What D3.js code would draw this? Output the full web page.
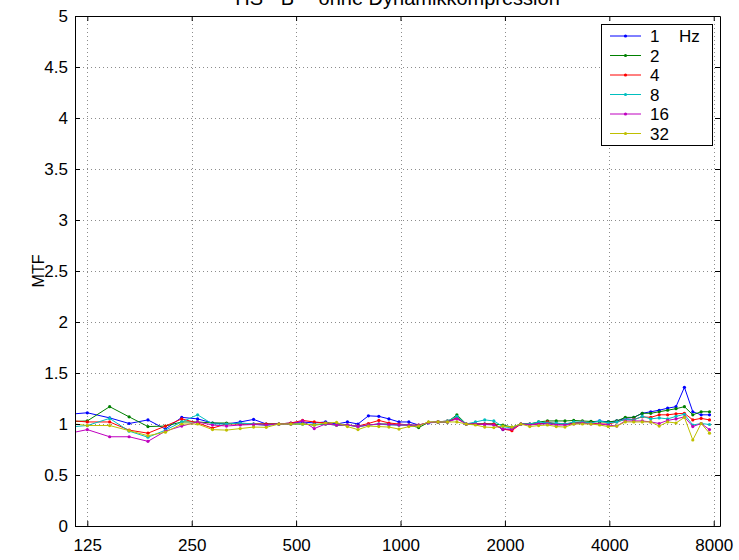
<!DOCTYPE html>
<html>
<head>
<meta charset="utf-8">
<script src="https://cdn.jsdelivr.net/npm/d3@7"></script>
<style>
  html, body { margin: 0; padding: 0; background: #fff; }
  svg { display: block; font-family: Arial, "Liberation Sans", sans-serif; }
</style>
</head>
<body>
<svg id="chart" width="739" height="560"></svg>
<script>
// Carrier frequencies (Hz), half-ERB spacing
const freqs = [106, 125, 145, 165, 187, 210, 234, 260, 287, 315, 345, 377, 410, 446, 483, 522,
  564, 608, 654, 703, 754, 808, 866, 926, 990, 1057, 1128, 1204, 1283, 1366, 1454, 1547,
  1645, 1749, 1858, 1974, 2095, 2224, 2359, 2502, 2653, 2812, 2980, 3158, 3345, 3542,
  3751, 3970, 4203, 4447, 4706, 4978, 5266, 5570, 5890, 6228, 6585, 6962, 7359, 7778];

// MTF per modulation frequency
const mtf1 = [1.09, 1.11, 1.06, 1.005, 1.04, 0.95, 1.065, 1.05, 1.01, 1.0, 1.02, 1.045, 1.0, 1.0, 1.01, 1.02,
  1.01, 1.02, 1.0, 1.02, 1.0, 1.08, 1.075, 1.05, 1.02, 1.02, 0.99, 1.01, 1.02, 1.02, 1.06, 1.0,
  1.0, 1.0, 1.0, 0.945, 0.95, 1.0, 1.0, 1.0, 1.01, 1.0, 1.0, 1.01, 1.01, 1.02,
  1.03, 1.02, 1.03, 1.055, 1.065, 1.105, 1.12, 1.135, 1.155, 1.17, 1.36, 1.12, 1.09, 1.09];
const mtf2 = [1.02, 1.03, 1.17, 1.07, 0.975, 0.98, 1.02, 1.02, 1.01, 1.01, 1.0, 1.0, 1.0, 1.0, 1.0, 1.0,
  0.99, 1.0, 0.99, 0.99, 0.975, 0.99, 1.0, 1.0, 0.99, 0.99, 0.965, 1.015, 1.02, 1.02, 1.09, 1.0,
  1.0, 1.0, 1.0, 0.99, 0.97, 1.0, 1.0, 1.02, 1.03, 1.03, 1.03, 1.035, 1.03, 1.025,
  1.02, 1.02, 1.03, 1.065, 1.065, 1.105, 1.105, 1.12, 1.135, 1.15, 1.17, 1.09, 1.12, 1.12];
const mtf4 = [1.04, 1.02, 1.02, 0.94, 0.91, 0.98, 1.05, 1.01, 0.96, 1.0, 1.0, 1.0, 1.0, 1.0, 1.01, 1.035,
  1.02, 1.01, 0.99, 0.99, 0.98, 1.005, 1.035, 1.01, 1.0, 0.99, 0.99, 1.015, 1.02, 1.03, 1.06, 1.0,
  1.0, 1.0, 1.0, 0.95, 0.935, 1.0, 1.0, 1.0, 1.02, 1.0, 1.0, 1.01, 1.02, 1.01,
  1.0, 1.0, 1.02, 1.045, 1.045, 1.07, 1.065, 1.09, 1.09, 1.1, 1.105, 1.04, 1.055, 1.04];
const mtf8 = [0.965, 0.985, 1.055, 0.93, 0.87, 0.94, 1.02, 1.09, 1.0, 1.0, 1.01, 1.0, 0.985, 1.0, 1.0, 1.0,
  0.995, 1.0, 0.99, 0.99, 0.975, 0.99, 1.0, 0.99, 0.99, 0.99, 0.985, 1.015, 1.02, 1.03, 1.075, 1.0,
  1.02, 1.04, 1.03, 0.975, 0.96, 1.0, 1.0, 1.02, 1.01, 1.01, 1.0, 1.02, 1.02, 1.01,
  1.03, 1.01, 1.02, 1.045, 1.04, 1.075, 1.05, 1.06, 1.05, 1.075, 1.095, 0.99, 1.005, 0.995];
const mtf16 = [0.895, 0.945, 0.875, 0.875, 0.83, 0.93, 0.98, 1.02, 0.99, 0.98, 0.99, 0.995, 0.99, 1.0, 1.0, 1.03,
  0.955, 1.0, 0.99, 0.99, 0.975, 0.99, 1.0, 0.995, 0.99, 0.99, 0.985, 1.015, 1.02, 1.02, 1.05, 1.0,
  1.0, 0.995, 0.99, 0.95, 0.95, 1.0, 0.99, 1.0, 1.0, 0.99, 0.99, 1.0, 1.01, 1.0,
  1.0, 0.99, 0.98, 1.03, 1.03, 1.03, 1.02, 1.005, 1.035, 1.05, 1.07, 0.975, 1.005, 0.945];
const mtf32 = [1.015, 0.985, 0.985, 0.935, 0.885, 0.92, 1.0, 1.0, 0.945, 0.94, 0.955, 0.97, 0.967, 1.0, 1.0, 1.0,
  0.99, 1.01, 1.015, 0.975, 0.945, 0.98, 0.975, 0.97, 0.95, 0.975, 0.98, 1.02, 1.02, 1.02, 1.02, 1.0,
  0.99, 0.97, 0.965, 0.98, 0.97, 1.0, 0.975, 0.985, 0.99, 0.975, 0.97, 1.0, 1.0, 1.0,
  0.99, 0.975, 0.98, 1.02, 1.02, 1.02, 1.02, 0.98, 1.02, 1.01, 1.065, 0.843, 1.005, 0.91];

const seriesNames = ["1", "2", "4", "8", "16", "32"];
const seriesValues = [mtf1, mtf2, mtf4, mtf8, mtf16, mtf32];
const seriesColors = ["#0000ff", "#008000", "#ff0000", "#00bfbf", "#bf00bf", "#bfbf00"];
const legendUnit = "Hz";

const xTicks = [125, 250, 500, 1000, 2000, 4000, 8000];
const yTicks = [0, 0.5, 1, 1.5, 2, 2.5, 3, 3.5, 4, 4.5, 5];
const titleText = "HS - B -- ohne Dynamikkompression";
const yLabel = "MTF";

const plot = { left: 75, right: 720, top: 16, bottom: 526 };
const svg = d3.select("#chart");

const x = d3.scaleLog().domain([115.2, 8340]).range([plot.left, plot.right]);
const y = d3.scaleLinear().domain([0, 5]).range([plot.bottom, plot.top]);

svg.append("defs").append("clipPath").attr("id", "plotClip")
  .append("rect")
  .attr("x", plot.left).attr("y", plot.top)
  .attr("width", plot.right - plot.left).attr("height", plot.bottom - plot.top);

// dotted grid
const grid = svg.append("g").attr("stroke", "#8c8c8c").attr("stroke-width", 1)
  .attr("stroke-dasharray", "1,3");
grid.selectAll("line.gx").data(xTicks).join("line")
  .attr("x1", d => Math.round(x(d)) + 0.5).attr("x2", d => Math.round(x(d)) + 0.5)
  .attr("y1", plot.top).attr("y2", plot.bottom);
grid.selectAll("line.gy").data(yTicks.slice(1, -1)).join("line")
  .attr("y1", d => Math.round(y(d)) + 0.5).attr("y2", d => Math.round(y(d)) + 0.5)
  .attr("x1", plot.left).attr("x2", plot.right);

// data lines
const lineGen = d3.line().x((d, i) => x(freqs[i])).y(d => y(d));
const dataG = svg.append("g").attr("clip-path", "url(#plotClip)");
seriesValues.forEach((vals, k) => {
  dataG.append("path").datum(vals)
    .attr("fill", "none").attr("stroke", seriesColors[k]).attr("stroke-width", 1)
    .attr("d", lineGen);
  dataG.append("g").selectAll("circle").data(vals).join("circle")
    .attr("cx", (d, i) => x(freqs[i])).attr("cy", d => y(d)).attr("r", 1.6)
    .attr("fill", seriesColors[k]);
});

// axes with inward ticks on all sides
const tickLen = 5;
const fontSize = 17;
const axisStyle = g => {
  g.selectAll("path.domain").attr("stroke", "#000");
  g.selectAll(".tick line").attr("stroke", "#000");
  g.selectAll(".tick text").attr("font-size", fontSize).attr("fill", "#000")
    .attr("font-family", "Arial, 'Liberation Sans', sans-serif");
};
svg.append("g").attr("transform", `translate(0,${plot.bottom})`)
  .call(d3.axisBottom(x).tickValues(xTicks).tickFormat(d3.format("d"))
    .tickSizeInner(-tickLen).tickSizeOuter(0).tickPadding(13))
  .call(axisStyle);
svg.append("g").attr("transform", `translate(0,${plot.top})`)
  .call(d3.axisTop(x).tickValues(xTicks).tickFormat("")
    .tickSizeInner(-tickLen).tickSizeOuter(0))
  .call(axisStyle);
svg.append("g").attr("transform", `translate(${plot.left},0)`)
  .call(d3.axisLeft(y).tickValues(yTicks).tickFormat(d => String(d))
    .tickSizeInner(-tickLen).tickSizeOuter(0).tickPadding(7))
  .call(axisStyle);
svg.append("g").attr("transform", `translate(${plot.right},0)`)
  .call(d3.axisRight(y).tickValues(yTicks).tickFormat("")
    .tickSizeInner(-tickLen).tickSizeOuter(0))
  .call(axisStyle);

// title (top edge of window cuts it)
svg.append("text").attr("x", (plot.left + plot.right) / 2).attr("y", 5)
  .attr("text-anchor", "middle").attr("font-size", 20).attr("fill", "#000")
  .text(titleText);

// y label
svg.append("text").attr("transform", `translate(44,${(plot.top + plot.bottom) / 2}) rotate(-90)`)
  .attr("text-anchor", "middle").attr("font-size", 16).attr("fill", "#000").text(yLabel);

// legend
const lg = svg.append("g");
lg.append("rect").attr("x", 601.5).attr("y", 24.5).attr("width", 111).attr("height", 121)
  .attr("fill", "#fff").attr("stroke", "#000").attr("stroke-width", 1);
const entries = lg.selectAll("g.entry").data(seriesNames).join("g")
  .attr("transform", (d, i) => `translate(0,${36 + i * 19.5})`);
entries.append("line").attr("x1", 610).attr("x2", 641).attr("y1", 0).attr("y2", 0)
  .attr("stroke", (d, i) => seriesColors[i]).attr("stroke-width", 1);
entries.append("circle").attr("cx", 625.5).attr("cy", 0).attr("r", 1.6)
  .attr("fill", (d, i) => seriesColors[i]);
entries.append("text").attr("x", 650).attr("y", 6).attr("font-size", 17).attr("fill", "#000")
  .text(d => d);
lg.append("text").attr("x", 679).attr("y", 42).attr("font-size", 17).attr("fill", "#000")
  .text(legendUnit);
</script>
</body>
</html>
